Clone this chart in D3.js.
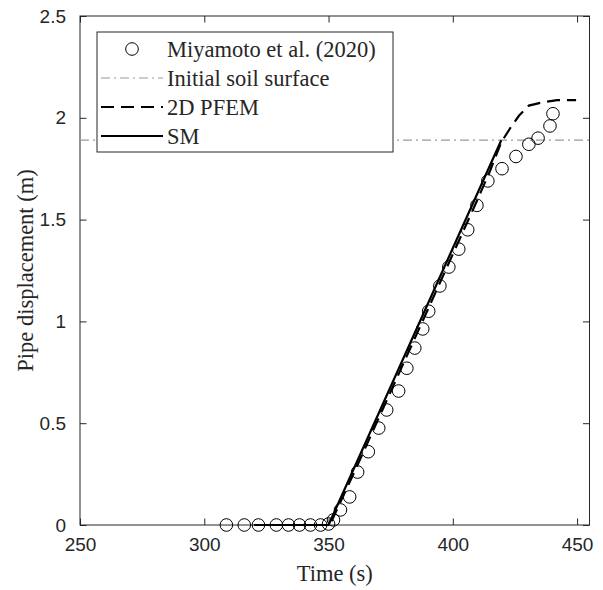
<!DOCTYPE html>
<html>
<head>
<meta charset="utf-8">
<script src="https://cdn.jsdelivr.net/npm/d3@7"></script>
<style>
  body { margin: 0; background: #fff; }
  .tick text { font-family: "Liberation Sans", Arial, sans-serif; font-size: 19px; fill: #262626; }
  .serif { font-family: "Liberation Serif", "Times New Roman", serif; fill: #262626; }
</style>
</head>
<body>
<script>
// Miyamoto et al. (2020) experiment
var expTime = [308.9, 316.1, 321.8, 329, 333.9, 338.3, 342.7, 346.8, 350, 352, 354.8, 358.5, 361.7, 366,
               370.2, 373.4, 378.2, 381.5, 384.7, 387.9, 390.3, 394.8, 398.4, 402.4, 406, 409.7,
               414.1, 419.8, 425.4, 430.6, 434.3, 439.1, 440.3];
var expDisp = [0, 0, 0, 0, 0, 0, 0, 0, 0.005, 0.025, 0.074, 0.138, 0.26, 0.36,
               0.476, 0.565, 0.658, 0.77, 0.869, 0.963, 1.05, 1.174, 1.267, 1.355, 1.45, 1.57,
               1.69, 1.75, 1.81, 1.87, 1.90, 1.96, 2.02];

// 2D PFEM
var pfemTime = [320, 350.5, 360, 370, 380, 390, 400, 410, 415, 419.5, 423.4, 426.6, 430.6, 436.3, 442, 449.6];
var pfemDisp = [0, 0, 0.25, 0.52, 0.79, 1.06, 1.33, 1.60, 1.74, 1.88, 1.955, 2.01, 2.06, 2.077, 2.087, 2.087];

// SM
var smTime = [320, 350, 419.5];
var smDisp = [0, 0, 1.89];

var soilSurface = 1.89;

var xTicks = [250, 300, 350, 400, 450];
var yTicks = [0, 0.5, 1, 1.5, 2, 2.5];

var width = 603, height = 590;
var mLeft = 80, mRight = 589.5, mTop = 16, mBottom = 525;

var x = d3.scaleLinear().domain([250, 455]).range([mLeft, mRight]);
var y = d3.scaleLinear().domain([0, 2.5]).range([mBottom, mTop]);

var svg = d3.select("body").append("svg")
    .attr("width", width)
    .attr("height", height);

var axisColor = "#262626";

// axes (box style, ticks inward)
svg.append("g")
    .attr("transform", "translate(0," + mBottom + ")")
    .call(d3.axisBottom(x).tickValues(xTicks).tickSizeInner(-6.5).tickSizeOuter(0).tickPadding(13).tickFormat(d3.format("d")));
svg.append("g")
    .attr("transform", "translate(0," + mTop + ")")
    .call(d3.axisTop(x).tickValues(xTicks).tickSizeInner(-6.5).tickSizeOuter(0).tickFormat(""));
svg.append("g")
    .attr("transform", "translate(" + mLeft + ",0)")
    .call(d3.axisLeft(y).tickValues(yTicks).tickSizeInner(-6.5).tickSizeOuter(0).tickPadding(14).tickFormat(function(d) { return d; }));
svg.append("g")
    .attr("transform", "translate(" + mRight + ",0)")
    .call(d3.axisRight(y).tickValues(yTicks).tickSizeInner(-6.5).tickSizeOuter(0).tickFormat(""));

svg.selectAll(".domain").remove();
svg.selectAll(".tick line").attr("stroke", axisColor);
svg.selectAll(".tick text").attr("fill", axisColor);

svg.append("rect")
    .attr("x", mLeft).attr("y", mTop)
    .attr("width", mRight - mLeft).attr("height", mBottom - mTop)
    .attr("fill", "none")
    .attr("stroke", axisColor)
    .attr("stroke-width", 1);

// soil surface
svg.append("line")
    .attr("x1", mLeft).attr("x2", mRight)
    .attr("y1", y(soilSurface)).attr("y2", y(soilSurface))
    .attr("stroke", "#999")
    .attr("stroke-width", 1.2)
    .attr("stroke-dasharray", "9,4,2,4");

var line = d3.line();

svg.append("path")
    .attr("d", line(smTime.map(function(t, i) { return [x(t), y(smDisp[i])]; })))
    .attr("fill", "none")
    .attr("stroke", "#000")
    .attr("stroke-width", 2.2);

svg.append("path")
    .attr("d", line(pfemTime.map(function(t, i) { return [x(t), y(pfemDisp[i])]; })))
    .attr("fill", "none")
    .attr("stroke", "#000")
    .attr("stroke-width", 2.2)
    .attr("stroke-dasharray", "13,7");

svg.selectAll("circle.exp")
    .data(expTime)
    .enter().append("circle")
    .attr("class", "exp")
    .attr("cx", function(d) { return x(d); })
    .attr("cy", function(d, i) { return y(expDisp[i]); })
    .attr("r", 6.3)
    .attr("fill", "none")
    .attr("stroke", "#000")
    .attr("stroke-width", 1);

// legend
var lg = svg.append("g");
lg.append("rect")
    .attr("x", 97).attr("y", 32)
    .attr("width", 296).attr("height", 120)
    .attr("fill", "#fff")
    .attr("stroke", axisColor)
    .attr("stroke-width", 1);

var legendItems = ["Miyamoto et al. (2020)", "Initial soil surface", "2D PFEM", "SM"];
var rowY = [49, 78, 107, 136];

lg.append("circle")
    .attr("cx", 132).attr("cy", rowY[0]).attr("r", 6.3)
    .attr("fill", "none").attr("stroke", "#000");
lg.append("line")
    .attr("x1", 101).attr("x2", 163).attr("y1", rowY[1]).attr("y2", rowY[1])
    .attr("stroke", "#999").attr("stroke-width", 1.2).attr("stroke-dasharray", "9,4,2,4");
lg.append("line")
    .attr("x1", 101).attr("x2", 163).attr("y1", rowY[2]).attr("y2", rowY[2])
    .attr("stroke", "#000").attr("stroke-width", 2.2).attr("stroke-dasharray", "13,7");
lg.append("line")
    .attr("x1", 101).attr("x2", 163).attr("y1", rowY[3]).attr("y2", rowY[3])
    .attr("stroke", "#000").attr("stroke-width", 2.2);

lg.selectAll("text")
    .data(legendItems)
    .enter().append("text")
    .attr("class", "serif")
    .attr("x", 167)
    .attr("y", function(d, i) { return rowY[i]; })
    .attr("dy", "0.35em")
    .style("font-size", "22.5px")
    .text(function(d) { return d; });

// axis titles
svg.append("text")
    .attr("class", "serif")
    .attr("x", (mLeft + mRight) / 2)
    .attr("y", 581)
    .attr("text-anchor", "middle")
    .style("font-size", "22.5px")
    .text("Time (s)");

svg.append("text")
    .attr("class", "serif")
    .attr("transform", "translate(33," + ((mTop + mBottom) / 2) + ") rotate(-90)")
    .attr("text-anchor", "middle")
    .style("font-size", "22.5px")
    .text("Pipe displacement (m)");
</script>
</body>
</html>
